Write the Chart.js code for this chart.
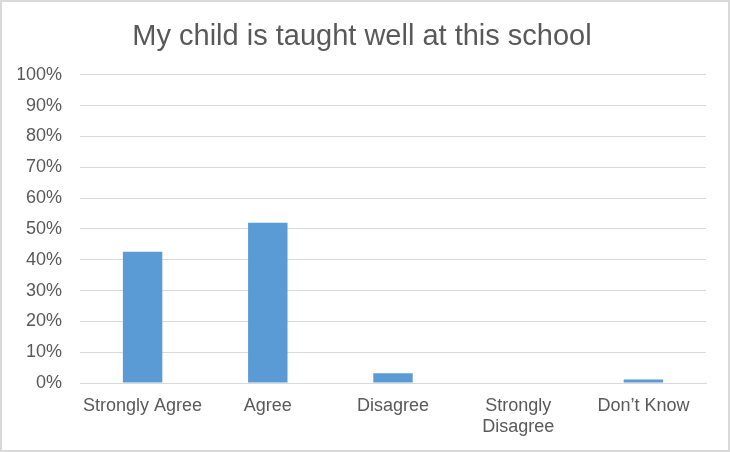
<!DOCTYPE html>
<html>
<head>
<meta charset="utf-8">
<script src="https://cdn.jsdelivr.net/npm/chart.js@4"></script>
<style>
  html, body { margin: 0; padding: 0; background: #fff; }
  #frame {
    width: 730px; height: 452px; box-sizing: border-box;
    border: 2px solid #d9d9d9; background: #fff; position: relative;
  }
  #wrap { position: absolute; left: 0; top: 0; width: 726px; height: 448px; }
</style>
</head>
<body>
<div id="frame"><div id="wrap"><canvas id="chart"></canvas></div></div>
<script>
// survey answers (percent of responses)
const categories = ['Strongly Agree', 'Agree', 'Disagree', ['Strongly', 'Disagree'], 'Don\u2019t Know'];
const responses = [42.6, 52.0, 3.2, 0, 1.1];
const yTicks = ['0%', '10%', '20%', '30%', '40%', '50%', '60%', '70%', '80%', '90%', '100%'];

const textGrey = '#595959';
const font = 'Liberation Sans, Arial, sans-serif';

const ctx = document.getElementById('chart').getContext('2d');
new Chart(ctx, {
  type: 'bar',
  data: {
    labels: categories,
    datasets: [{
      label: 'Responses',
      data: responses,
      backgroundColor: '#5b9bd5',
      borderWidth: 0,
      categoryPercentage: 1,
      barPercentage: 0.315
    }]
  },
  options: {
    responsive: true,
    maintainAspectRatio: false,
    animation: false,
    layout: { padding: { left: 16, right: 22, top: 0, bottom: 0 } },
    scales: {
      x: {
        grid: { display: false, drawTicks: false },
        border: { color: '#d9d9d9', width: 1 },
        ticks: {
          color: textGrey, padding: 12, maxRotation: 0, autoSkip: false,
          font: { family: font, size: 18 }
        },
        // keep the plot area from growing for the long first label
        afterFit: (s) => { s.paddingLeft = 0; s.paddingRight = 0; s.height = 67; }
      },
      y: {
        min: 0, max: 100,
        border: { display: false },
        grid: { color: '#d9d9d9', lineWidth: 1, drawTicks: false },
        ticks: {
          stepSize: 10, color: textGrey, padding: 18,
          font: { family: font, size: 18 },
          callback: (v) => yTicks[Math.round(v / 10)]
        },
        afterFit: (s) => { s.width = 62; }
      }
    },
    plugins: {
      legend: { display: false },
      tooltip: { enabled: false },
      title: {
        display: true,
        text: 'My child is taught well at this school',
        color: textGrey,
        font: { family: font, size: 29, weight: 'normal' },
        padding: { top: 18, bottom: 20 }
      }
    }
  }
});
</script>
</body>
</html>
